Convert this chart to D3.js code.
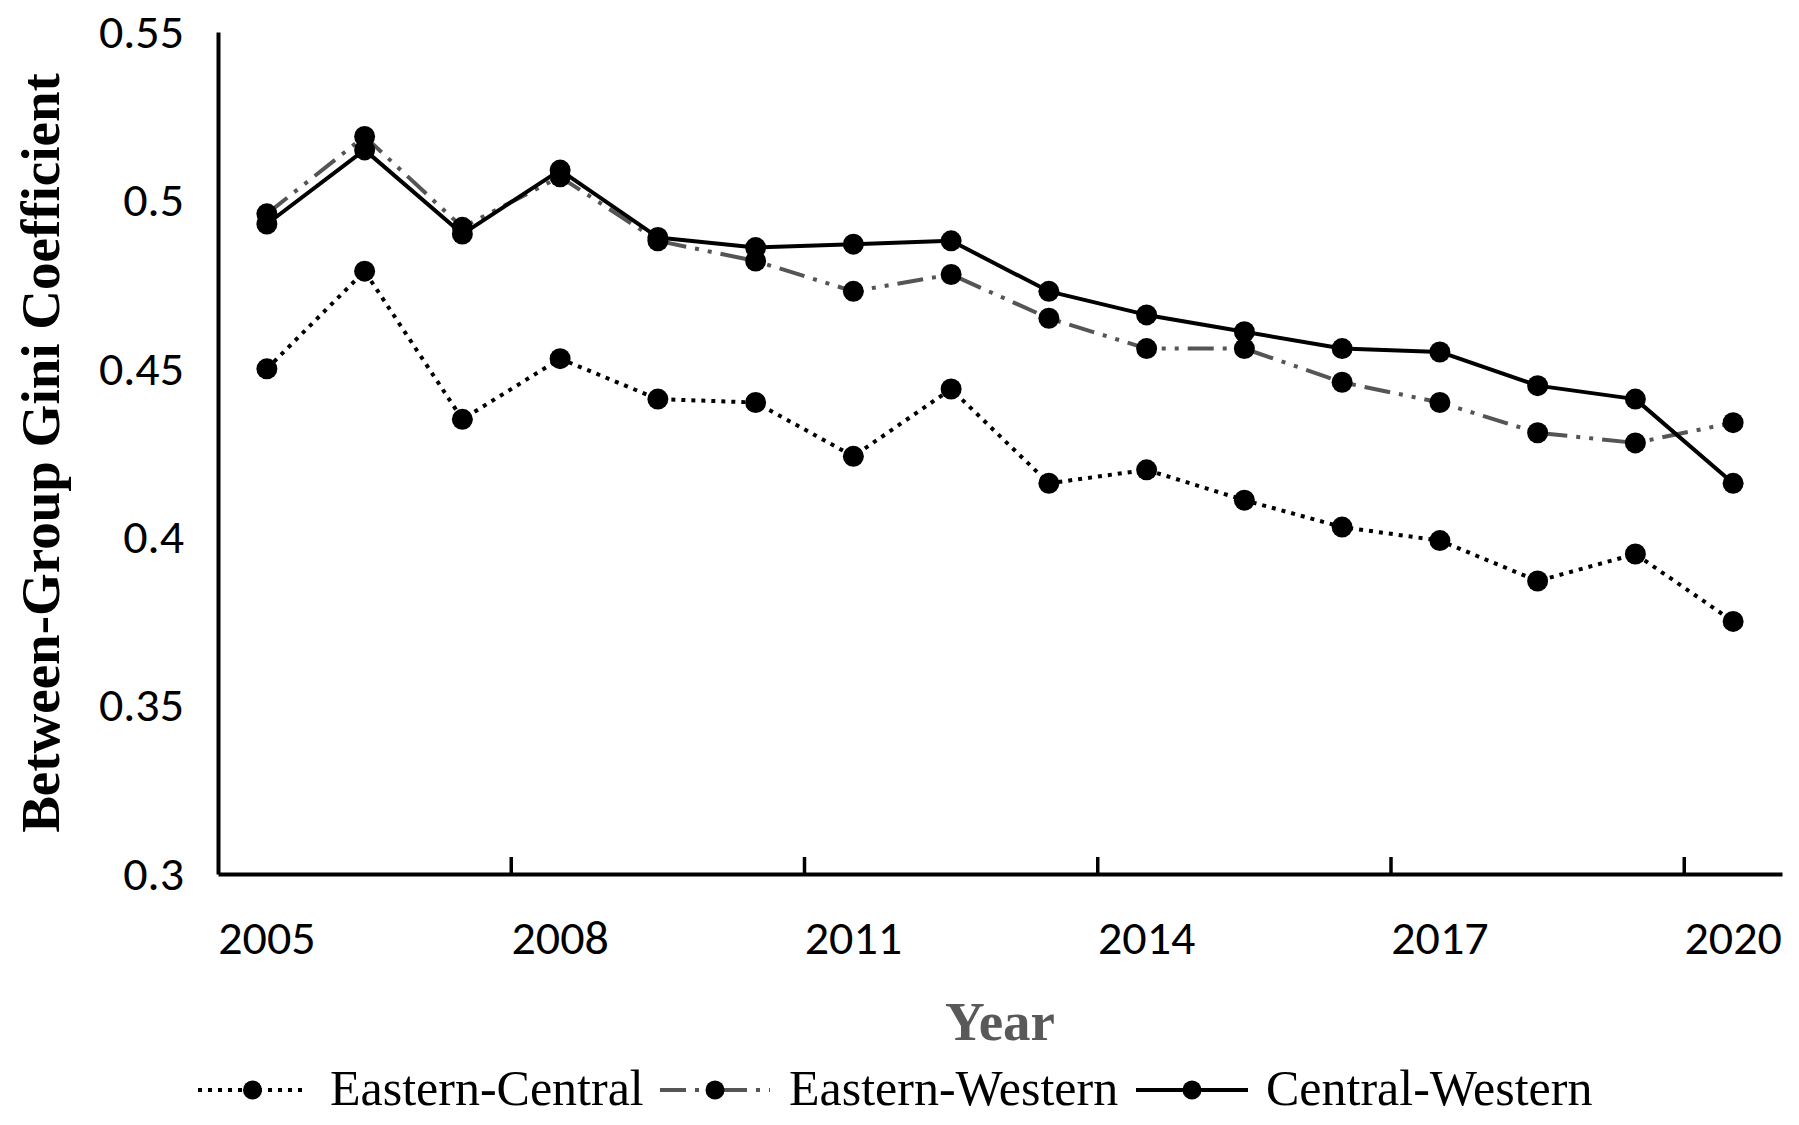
<!DOCTYPE html>
<html><head><meta charset="utf-8">
<script src="https://cdn.jsdelivr.net/npm/d3@7"></script>
<style>body{margin:0;background:#fff} svg{display:block}</style>
</head><body><svg id="c" width="1799" height="1125"></svg>
<script>
const years = [2005,2006,2007,2008,2009,2010,2011,2012,2013,2014,2015,2016,2017,2018,2019,2020];
const easternCentral = [0.450,0.479,0.435,0.453,0.441,0.440,0.424,0.444,0.416,0.420,0.411,0.403,0.399,0.387,0.395,0.375];
const easternWestern = [0.496,0.519,0.492,0.507,0.488,0.482,0.473,0.478,0.465,0.456,0.456,0.446,0.440,0.431,0.428,0.434];
const centralWestern = [0.493,0.515,0.490,0.509,0.489,0.486,0.487,0.488,0.473,0.466,0.461,0.456,0.455,0.445,0.441,0.416];
const seriesNames = ["Eastern-Central","Eastern-Western","Central-Western"];
const yTicks = [0.3,0.35,0.4,0.45,0.5,0.55];
const yTickLabels = ["0.3","0.35","0.4","0.45","0.5","0.55"];
const xTickYears = [2005,2008,2011,2014,2017,2020];
const xMarkYears = [2008,2011,2014,2017,2020];

const svg = d3.select("#c");
const L=218, R=1782, T=32, B=874;
const x = d3.scaleBand().domain(years).range([L,R]).padding(0);
const y = d3.scaleLinear().domain([0.3,0.55]).range([B,T]);
const cx = yr => x(yr)+x.bandwidth()/2;

const tickFont = "Carlito, Calibri, Lato, sans-serif";
const serif = "'Liberation Serif', 'Times New Roman', serif";

// y axis
const ya = svg.append("g").attr("transform",`translate(${L},0)`)
  .call(d3.axisLeft(y).tickValues(yTicks).tickFormat((d,i)=>yTickLabels[i]).tickSize(0).tickSizeOuter(0).tickPadding(34));
ya.select(".domain").attr("stroke","#000").attr("stroke-width",4);
ya.selectAll("text").attr("font-family",tickFont).attr("font-size",48).attr("fill","#000");

// x axis
const xa = svg.append("g").attr("transform",`translate(0,${B})`)
  .call(d3.axisBottom(x).tickValues(xTickYears).tickSize(0).tickSizeOuter(0).tickPadding(46));
xa.select(".domain").attr("stroke","#000").attr("stroke-width",4);
xa.selectAll("text").attr("font-family",tickFont).attr("font-size",48).attr("fill","#000");
svg.append("g").selectAll("line").data(xMarkYears).join("line")
  .attr("x1",d=>x(d)).attr("x2",d=>x(d)).attr("y1",B).attr("y2",B-17)
  .attr("stroke","#000").attr("stroke-width",3.5);

// titles
svg.append("text").attr("transform",`translate(59,${(T+B)/2}) rotate(-90)`)
  .attr("text-anchor","middle").attr("font-family",serif).attr("font-weight","bold")
  .attr("font-size",55).attr("fill","#000").text("Between-Group Gini Coefficient");
svg.append("text").attr("x",(L+R)/2).attr("y",1040).attr("text-anchor","middle")
  .attr("font-family",serif).attr("font-weight","bold").attr("font-size",55)
  .attr("fill","#595959").text("Year");

const styles = [
  {stroke:"#000", width:4, dash:"4,6"},
  {stroke:"#555", width:4, dash:"26,9,4,9,4,9"},
  {stroke:"#000", width:4, dash:null}
];
const data = [easternCentral, easternWestern, centralWestern];
const line = d3.line().x((d,i)=>cx(years[i])).y(d=>y(d));

data.forEach((s,k)=>{
  svg.append("path").attr("d",line(s)).attr("fill","none")
    .attr("stroke",styles[k].stroke).attr("stroke-width",styles[k].width)
    .attr("stroke-dasharray",styles[k].dash).attr("stroke-linejoin","round");
});
data.forEach((s,k)=>{
  svg.append("g").selectAll("circle").data(s).join("circle")
    .attr("cx",(d,i)=>cx(years[i])).attr("cy",d=>y(d)).attr("r",10.5).attr("fill","#000");
});

// legend
const legY = 1090;
const leg = [
  {x1:198,x2:307,tx:330},
  {x1:660,x2:770,tx:789},
  {x1:1136,x2:1248,tx:1266}
];
leg.forEach((g,k)=>{
  svg.append("line").attr("x1",g.x1).attr("x2",g.x2).attr("y1",legY).attr("y2",legY)
    .attr("stroke",styles[k].stroke).attr("stroke-width",styles[k].width)
    .attr("stroke-dasharray",styles[k].dash);
  svg.append("circle").attr("cx",(g.x1+g.x2)/2).attr("cy",legY).attr("r",9.5).attr("fill","#000");
  svg.append("text").attr("x",g.tx).attr("y",1105).attr("font-family",serif)
    .attr("font-size",50).attr("fill","#000").text(seriesNames[k]);
});
</script></body></html>
